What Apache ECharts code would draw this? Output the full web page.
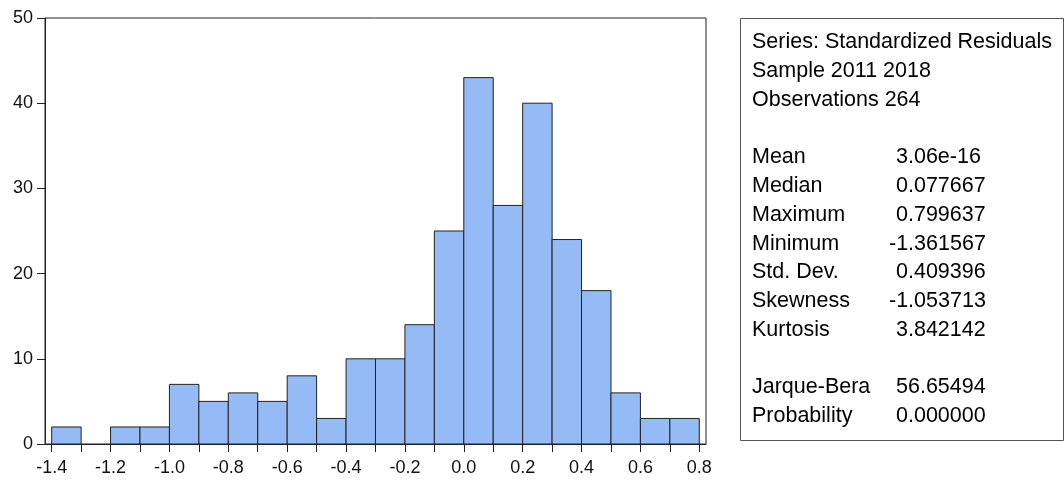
<!DOCTYPE html>
<html lang="en">
<head>
<meta charset="UTF-8">
<title>Histogram - Standardized Residuals</title>
<script src="https://cdn.jsdelivr.net/npm/echarts@6/dist/echarts.min.js"></script>
<style>
  html, body { margin: 0; padding: 0; background: #fff; }
  #main { width: 1064px; height: 481px; }
</style>
</head>
<body>
<div id="main"></div>
<script type="text/javascript">
// histogram bins (left edge) and counts, width 0.1
var binStarts = [-1.4, -1.3, -1.2, -1.1, -1.0, -0.9, -0.8, -0.7, -0.6, -0.5, -0.4,
                 -0.3, -0.2, -0.1, 0.0, 0.1, 0.2, 0.3, 0.4, 0.5, 0.6, 0.7];
var counts = [2, 0, 2, 2, 7, 5, 6, 5, 8, 3, 10, 10, 14, 25, 43, 28, 40, 24, 18, 6, 3, 3];
var binWidth = 0.1;

// axis ticks / labels
var xTicks = [-1.4, -1.3, -1.2, -1.1, -1.0, -0.9, -0.8, -0.7, -0.6, -0.5, -0.4, -0.3,
              -0.2, -0.1, 0.0, 0.1, 0.2, 0.3, 0.4, 0.5, 0.6, 0.7, 0.8];
var xLabels = [-1.4, -1.2, -1.0, -0.8, -0.6, -0.4, -0.2, 0.0, 0.2, 0.4, 0.6, 0.8];

// stats box text
var headerLines = ['Series: Standardized Residuals', 'Sample 2011 2018', 'Observations 264'];
var statNames = ['Mean', 'Median', 'Maximum', 'Minimum', 'Std. Dev.', 'Skewness', 'Kurtosis'];
var statValues = ['3.06e-16', '0.077667', '0.799637', '-1.361567', '0.409396', '-1.053713', '3.842142'];
var testNames = ['Jarque-Bera', 'Probability'];
var testValues = ['56.65494', '0.000000'];

var myChart = echarts.init(document.getElementById('main'));

var barData = [];
for (var i = 0; i < binStarts.length; i++) {
    barData.push([binStarts[i], binStarts[i] + binWidth, counts[i]]);
}

// stats panel
var FONT = '21.5px "Liberation Sans", Arial, sans-serif';
var lineH = 28.75, firstY = 42.5;
var graphics = [{
    type: 'rect',
    shape: { x: 740.5, y: 18.5, width: 323, height: 422 },
    style: { fill: 'none', stroke: '#555', lineWidth: 1 }
}];
function addText(txt, x, row) {
    graphics.push({
        type: 'text',
        x: x, y: firstY + row * lineH,
        style: { text: txt, x: 0, y: 0, font: FONT, fill: '#000', verticalAlign: 'middle' }
    });
}
headerLines.forEach(function (t, k) { addText(t, 752, k); });
statNames.forEach(function (t, k) {
    addText(t, 752, 4 + k);
    addText(statValues[k], statValues[k].charAt(0) === '-' ? 889 : 896, 4 + k);
});
testNames.forEach(function (t, k) {
    addText(t, 752, 12 + k);
    addText(testValues[k], 896, 12 + k);
});

myChart.setOption({
    animation: false,
    backgroundColor: '#fff',
    textStyle: { fontFamily: '"Liberation Sans", Arial, sans-serif' },
    grid: {
        left: 45, top: 18, width: 661, height: 426,
        show: true, borderColor: '#222', borderWidth: 1,
        outerBoundsMode: 'none'
    },
    xAxis: {
        type: 'value',
        min: -1.4227, max: 0.8228,
        axisLine: { show: true, onZero: false, lineStyle: { color: '#222', width: 1 } },
        axisTick: { show: true, length: 8, inside: false, customValues: xTicks, lineStyle: { color: '#222' } },
        axisLabel: {
            customValues: xLabels, fontSize: 18, color: '#111', margin: 15,
            formatter: function (v) { return v.toFixed(1); }
        },
        splitLine: { show: false }
    },
    yAxis: {
        type: 'value',
        min: 0, max: 50, interval: 10,
        axisLine: { show: true, onZero: false, lineStyle: { color: '#222', width: 1 } },
        axisTick: { show: true, length: 8, inside: false, lineStyle: { color: '#222' } },
        axisLabel: { fontSize: 18, color: '#111', margin: 12 },
        splitLine: { show: false }
    },
    series: [{
        type: 'custom',
        data: barData,
        encode: { x: [0, 1], y: 2 },
        renderItem: function (params, api) {
            var c = api.value(2);
            if (!c) return null;
            var p0 = api.coord([api.value(0), c]);
            var p1 = api.coord([api.value(1), 0]);
            return {
                type: 'rect',
                shape: { x: p0[0], y: p0[1], width: p1[0] - p0[0], height: p1[1] - p0[1] },
                style: { fill: '#94BBF6', stroke: '#222', lineWidth: 1 }
            };
        }
    }],
    graphic: graphics
});
</script>
</body>
</html>
